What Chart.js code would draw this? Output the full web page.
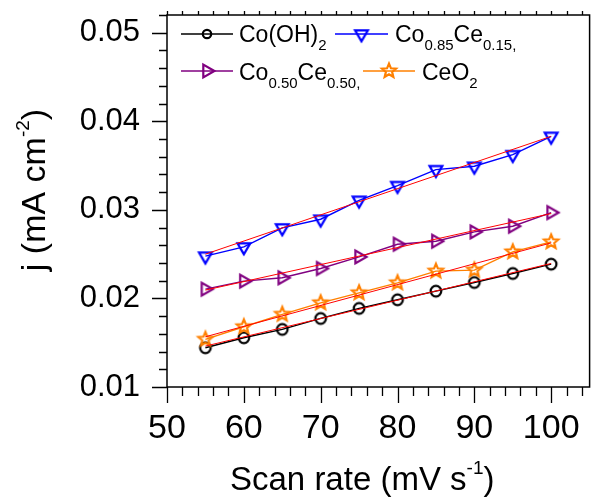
<!DOCTYPE html>
<html>
<head>
<meta charset="utf-8">
<script src="https://cdn.jsdelivr.net/npm/chart.js@4.4.0/dist/chart.umd.min.js"></script>
<style>
  html, body { margin: 0; padding: 0; background: #fff; }
</style>
</head>
<body>
<canvas id="chart" width="596" height="498"></canvas>
<script>
// Datos
const scanRates = [55, 60, 65, 70, 75, 80, 85, 90, 95, 100];
const coOH2    = [0.01443, 0.01556, 0.01650, 0.01774, 0.01887, 0.01985, 0.02082, 0.02180, 0.02282, 0.02387];
const co85ce15 = [0.02477, 0.02582, 0.02796, 0.02894, 0.03108, 0.03274, 0.03454, 0.03492, 0.03623, 0.03830];
const co50ce50 = [0.02105, 0.02195, 0.02233, 0.02338, 0.02469, 0.02612, 0.02646, 0.02751, 0.02815, 0.02969];
const ceO2     = [0.01538, 0.01680, 0.01820, 0.01950, 0.02063, 0.02176, 0.02308, 0.02319, 0.02525, 0.02638];

// Extremos de los ajustes lineales (rojo)
const fitX      = [55, 100];
const fitCoOH2  = [0.01462, 0.02395];
const fitCo85   = [0.02500, 0.03830];
const fitCo50   = [0.02094, 0.02958];
const fitCeO2   = [0.01567, 0.02627];

const xTicks = [50, 60, 70, 80, 90, 100];
const yTicks = [0.01, 0.02, 0.03, 0.04, 0.05];
const xMinorStep = 2;
const yMinorStep = 0.002;

const FONT = "'Liberation Sans', Arial, sans-serif";

function toPoints(xs, ys) {
  return xs.map((x, i) => ({ x: x, y: ys[i] }));
}

// Marcadores huecos dibujados en un canvas
function makeMarker(kind, color, r) {
  const c = document.createElement('canvas');
  c.width = 22; c.height = 22;
  const g = c.getContext('2d');
  g.strokeStyle = color;
  g.lineWidth = 2.2;
  g.translate(11, 11);
  g.beginPath();
  if (kind === 'circle') {
    g.arc(0, 0, r, 0, Math.PI * 2);
  } else if (kind === 'down') {
    g.moveTo(0, r);
    g.lineTo(-r * 0.866, -r / 2);
    g.lineTo(r * 0.866, -r / 2);
    g.closePath();
  } else if (kind === 'right') {
    g.moveTo(r, 0);
    g.lineTo(-r / 2, -r * 0.866);
    g.lineTo(-r / 2, r * 0.866);
    g.closePath();
  } else if (kind === 'star') {
    for (let i = 0; i < 10; i++) {
      const a = -Math.PI / 2 + i * Math.PI / 5;
      const rr = i % 2 === 0 ? r : r * 0.45;
      const px = Math.cos(a) * rr, py = Math.sin(a) * rr;
      if (i === 0) g.moveTo(px, py); else g.lineTo(px, py);
    }
    g.closePath();
  }
  g.stroke();
  return c;
}

const mCircle = makeMarker('circle', '#000000', 5.3);
const mDown   = makeMarker('down', '#0000FF', 7.4);
const mRight  = makeMarker('right', '#800080', 7.4);
const mStar   = makeMarker('star', '#FF8000', 7.4);
const mCircleLeg = makeMarker('circle', '#000000', 4.2);

function dataSet(ys, color, marker) {
  return {
    data: toPoints(scanRates, ys),
    showLine: true,
    borderColor: color,
    borderWidth: 1.4,
    pointStyle: marker,
    pointRadius: 5,
    order: 1
  };
}

function fitSet(ys) {
  return {
    data: toPoints(fitX, ys),
    showLine: true,
    borderColor: '#FF0000',
    borderWidth: 1,
    pointRadius: 0,
    order: 0
  };
}

// Texto con subíndices / superíndices
function drawRich(ctx, parts, x, y, size, subSize, supSize) {
  let cx = x;
  parts.forEach(p => {
    let fs = size, dy = 0;
    if (p.sub) { fs = subSize; dy = size * 0.34; }
    if (p.sup) { fs = supSize; dy = -size * 0.47; }
    ctx.font = fs + 'px ' + FONT;
    ctx.fillText(p.t, cx, y + dy);
    cx += ctx.measureText(p.t).width;
  });
  return cx - x;
}

function richWidth(ctx, parts, size, subSize, supSize) {
  let w = 0;
  parts.forEach(p => {
    const fs = p.sub ? subSize : (p.sup ? supSize : size);
    ctx.font = fs + 'px ' + FONT;
    w += ctx.measureText(p.t).width;
  });
  return w;
}

const frameAndText = {
  id: 'frameAndText',
  afterDraw(chart) {
    const ctx = chart.ctx;
    const a = chart.chartArea;
    const xs = chart.scales.x, ys = chart.scales.y;
    ctx.save();
    ctx.strokeStyle = '#000';
    ctx.fillStyle = '#000';

    // Marco
    ctx.lineWidth = 1.5;
    ctx.strokeRect(a.left, a.top, a.right - a.left, a.bottom - a.top);

    // Marcas del eje x (abajo y arriba)
    ctx.lineWidth = 1.3;
    ctx.beginPath();
    for (let v = xs.min; v <= xs.max + 1e-9; v += xMinorStep) {
      const px = Math.round(xs.getPixelForValue(v)) + 0.5;
      const major = xTicks.indexOf(Math.round(v)) >= 0;
      ctx.moveTo(px, a.bottom);
      ctx.lineTo(px, a.bottom + (major ? 16 : 9));
      ctx.moveTo(px, a.top);
      ctx.lineTo(px, a.top - 4);
    }
    // Marcas del eje y
    for (let v = ys.min; v <= ys.max + 1e-9; v += yMinorStep) {
      const py = Math.round(ys.getPixelForValue(v)) + 0.5;
      const major = yTicks.some(t => Math.abs(t - v) < 1e-6);
      ctx.moveTo(a.left, py);
      ctx.lineTo(a.left - (major ? 15 : 8), py);
    }
    ctx.stroke();

    // Títulos de los ejes
    ctx.textBaseline = 'alphabetic';
    ctx.textAlign = 'left';
    const xTitle = [{ t: 'Scan rate (mV s' }, { t: '-1', sup: true }, { t: ')' }];
    drawRich(ctx, xTitle, 230, 490, 33, 19, 19);

    const yTitle = [{ t: 'j (mA cm' }, { t: '-2', sup: true }, { t: ')' }];
    const yw = richWidth(ctx, yTitle, 34, 19, 19);
    ctx.save();
    ctx.translate(45, 190 + yw / 2);
    ctx.rotate(-Math.PI / 2);
    drawRich(ctx, yTitle, 0, 0, 34, 19, 19);
    ctx.restore();

    // Leyenda
    const legend = [
      { color: '#000000', marker: mCircleLeg, x0: 181, x1: 233, tx: 239, ly: 34, by: 42,
        parts: [{ t: 'Co(OH)' }, { t: '2', sub: true }] },
      { color: '#0000FF', marker: mDown, x0: 335, x1: 388, tx: 395, ly: 34, by: 42,
        parts: [{ t: 'Co' }, { t: '0.85', sub: true }, { t: 'Ce' }, { t: '0.15,', sub: true }] },
      { color: '#800080', marker: mRight, x0: 181, x1: 233, tx: 239, ly: 71, by: 80,
        parts: [{ t: 'Co' }, { t: '0.50', sub: true }, { t: 'Ce' }, { t: '0.50,', sub: true }] },
      { color: '#FF8000', marker: mStar, x0: 363, x1: 415, tx: 422, ly: 71, by: 80,
        parts: [{ t: 'CeO' }, { t: '2', sub: true }] }
    ];
    legend.forEach(it => {
      ctx.strokeStyle = it.color;
      ctx.lineWidth = 1.4;
      ctx.beginPath();
      ctx.moveTo(it.x0, it.ly);
      ctx.lineTo(it.x1, it.ly);
      ctx.stroke();
      const mx = (it.x0 + it.x1) / 2;
      ctx.drawImage(it.marker, mx - it.marker.width / 2, it.ly - it.marker.height / 2);
      ctx.fillStyle = '#000';
      drawRich(ctx, it.parts, it.tx, it.by, 23, 15, 15);
    });

    ctx.restore();
  }
};

const ctx = document.getElementById('chart').getContext('2d');
const chart = new Chart(ctx, {
  type: 'scatter',
  data: {
    datasets: [
      fitSet(fitCo85),
      fitSet(fitCo50),
      fitSet(fitCeO2),
      fitSet(fitCoOH2),
      dataSet(co85ce15, '#0000FF', mDown),
      dataSet(co50ce50, '#800080', mRight),
      dataSet(ceO2, '#FF8000', mStar),
      dataSet(coOH2, '#000000', mCircle)
    ]
  },
  options: {
    responsive: false,
    animation: false,
    layout: { padding: { top: 15, right: 1, left: 0, bottom: 0 } },
    plugins: {
      legend: { display: false },
      tooltip: { enabled: false }
    },
    scales: {
      x: {
        type: 'linear',
        min: 50,
        max: 105,
        grid: { display: false, drawTicks: false },
        border: { display: false },
        ticks: {
          color: '#000',
          font: { family: FONT, size: 34, lineHeight: 1.2 },
          padding: 21,
          maxRotation: 0
        },
        afterBuildTicks: s => { s.ticks = xTicks.map(v => ({ value: v })); },
        afterFit: s => { s.height = 111; s.paddingLeft = 0; s.paddingRight = 0; }
      },
      y: {
        type: 'linear',
        min: 0.01,
        max: 0.052,
        grid: { display: false, drawTicks: false },
        border: { display: false },
        ticks: {
          color: '#000',
          font: { family: FONT, size: 31, lineHeight: 1.2 },
          padding: 27,
          callback: v => v.toFixed(2)
        },
        afterBuildTicks: s => { s.ticks = yTicks.map(v => ({ value: v })); },
        afterFit: s => { s.width = 167; s.paddingTop = 0; s.paddingBottom = 0; }
      }
    }
  },
  plugins: [frameAndText]
});
</script>
</body>
</html>
